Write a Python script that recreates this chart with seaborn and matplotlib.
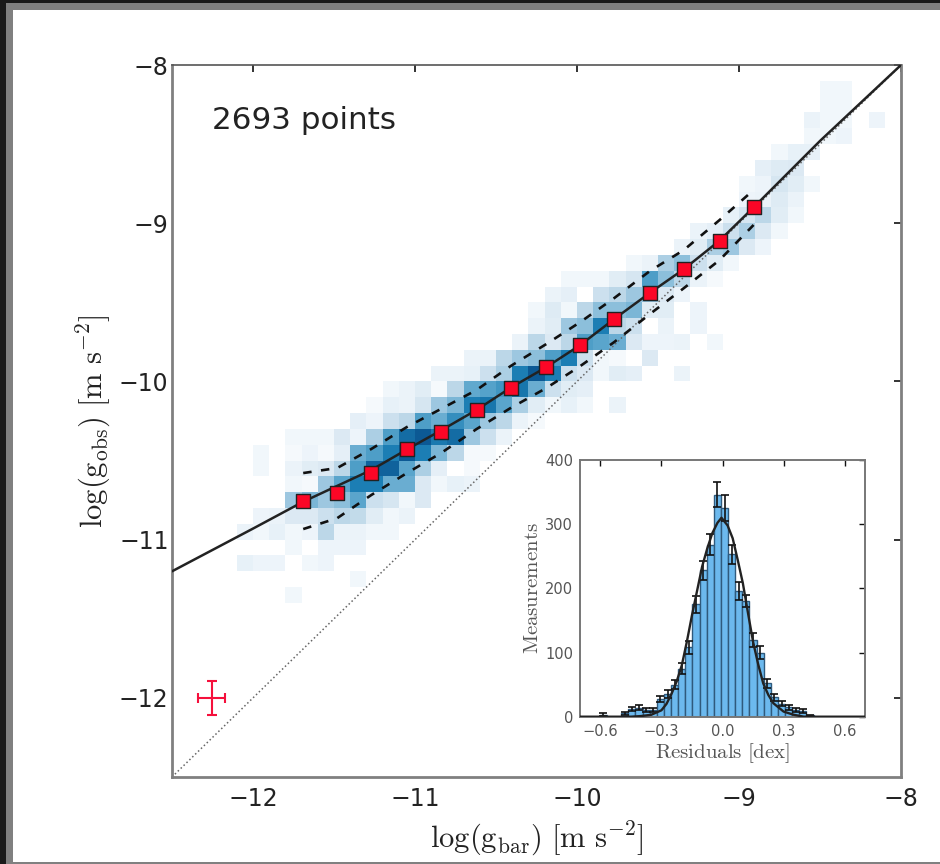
import numpy as np
import seaborn as sns
import matplotlib
matplotlib.use('Agg')
import matplotlib.pyplot as plt
import matplotlib.patches as mpatches
from matplotlib.colors import LinearSegmentedColormap

# 2D histogram cells, one row per 0.1 dex in y (top edge, first x bin, shades)
row_tops = [-8.1, -8.2, -8.3, -8.4, -8.5, -8.6, -8.7, -8.8, -8.9, -9.0, -9.1, -9.2, -9.3, -9.4, -9.5,
            -9.6, -9.7, -9.8, -9.9, -10.0, -10.1, -10.2, -10.3, -10.4, -10.5, -10.6, -10.7, -10.8,
            -10.9, -11.0, -11.1, -11.2, -11.3]
row_starts = [40, 40, 39, 39, 37, 36, 35, 35, 34, 32, 31, 28, 24, 23, 22,
              22, 21, 18, 16, 13, 12, 11, 7, 5, 5, 7, 7, 5,
              4, 7, 4, 11, 7]
row_values = [
    [.03, .03],
    [.03, .03],
    [.05, .03, .03, 0, .04],
    [.03, .03, .04],
    [.03, .06, .06],
    [.07, .09, .1],
    [.03, .04, .12, .08, .03],
    [.04, .05, .09, .05],
    [.06, .12, .2, .08, .03],
    [.05, .07, .15, .25, .1, .03],
    [.05, .08, .25, .3, .1, .04],
    [.03, .05, .25, .35, .15, .08, .03],
    [.03, .03, .03, .08, .12, .55, .35, .2, .05, .02],
    [.05, .07, 0, .15, .2, .3, .35, .1, .04],
    [.03, .09, .03, .2, .35, .35, .4, .08, .08, 0, .04],
    [.05, .08, .3, .35, .75, .2, .15, 0, .05, 0, .04],
    [.05, .2, .1, .2, .55, .5, .45, .1, .04, .04, .05, 0, .03],
    [.05, .05, .2, .3, .35, .55, .75, .15, .03, .02, 0, .1],
    [.05, .05, .06, .15, .25, .75, .95, .75, .15, .1, .03, .08, .07, 0, 0, .05],
    [.03, .05, .08, .02, .2, .48, .52, .6, .8, .45, .15, .08, .07],
    [.02, .06, .05, .12, .3, .4, .75, .8, .5, .25, .08, .03, .06, .03, 0, .05],
    [.07, .04, .15, .2, .55, .45, .65, .5, .3, .2, .05, .02],
    [.03, .03, .03, .1, .04, .25, .55, .85, .95, .78, .85, .3, .15, .05],
    [.03, 0, .02, .04, .02, .07, .45, .55, .75, .95, .75, .4, .2, .02, .02],
    [.03, 0, .05, .08, .1, .2, .55, .9, .9, .5, .25, .07, 0, .02],
    [.03, .02, .3, .5, .75, .75, .45, .45, .1, .03, .06, .05],
    [.3, .4, .3, .35, .5, .15, .12, .03, .1],
    [.04, .05, .1, .1, .15, .2, .18, .08, .03, .05],
    [.05, .03, .06, .03, .04, .2, .05, .05, .03, .03],
    [.03, 0, .04, .04, .04],
    [.06, .04, .04, 0, .03, .04],
    [.03],
    [.03],
]

# binned points and scatter
bin_x = [-11.69, -11.48, -11.27, -11.05, -10.84, -10.62, -10.41, -10.19, -9.98, -9.77, -9.55, -9.34, -9.12, -8.91]
bin_y = [-10.756, -10.705, -10.58, -10.43, -10.32, -10.18, -10.04, -9.91, -9.77, -9.605, -9.44, -9.29, -9.11, -8.90]
upper_y = [-10.579, -10.547, -10.427, -10.288, -10.174, -10.054, -9.903, -9.764, -9.625, -9.473, -9.302, -9.169, -8.98, -8.79]
lower_y = [-10.933, -10.864, -10.718, -10.579, -10.453, -10.301, -10.168, -10.042, -9.903, -9.751, -9.574, -9.41, -9.233, -9.011]

# fitted relation and unity line
fit_x = [-12.5, -12.0, -11.69, -11.48, -11.27, -11.05, -10.84, -10.62, -10.41, -10.19, -9.98, -9.77, -9.55, -9.34, -9.12, -8.91, -8.5, -8.0]
fit_y = [-11.2, -10.93, -10.76, -10.66, -10.56, -10.43, -10.31, -10.18, -10.04, -9.91, -9.77, -9.605, -9.44, -9.29, -9.11, -8.90, -8.48, -8.0]
unity = [-12.5, -8.0]

# typical error
err_x, err_y = -12.255, -12.0
err_dx, err_dy = 0.083, 0.108

# inset histogram
res_centers = [-0.585, -0.48, -0.445, -0.41, -0.375, -0.34, -0.305, -0.27, -0.235, -0.2, -0.165, -0.13, -0.095, -0.06,
               -0.025, 0.01, 0.045, 0.08, 0.115, 0.15, 0.185, 0.22, 0.255, 0.29, 0.325, 0.36, 0.395, 0.43]
res_counts = [3, 5, 12, 14, 10, 10, 28, 35, 50, 75, 108, 175, 228, 268,
              346, 325, 253, 196, 180, 120, 100, 52, 30, 20, 15, 11, 9, 2]
res_errors = [2, 2, 3, 4, 3, 3, 5, 6, 7, 9, 10, 13, 15, 16,
              19, 20, 15, 14, 9, 11, 10, 7, 5, 4, 4, 3, 3, 1]

# gaussian curve
curve_x = [-0.7, -0.45, -0.4, -0.35, -0.3, -0.275, -0.25, -0.225, -0.2, -0.175, -0.15, -0.125, -0.1, -0.075, -0.05, -0.025,
           -0.005, 0.025, 0.05, 0.075, 0.1, 0.125, 0.15, 0.175, 0.2, 0.225, 0.25, 0.3, 0.35, 0.4, 0.7]
curve_y = [0, 0, 1, 3, 10, 20, 36, 55, 80, 117, 158, 196, 234, 262, 286, 302,
           310, 298, 278, 244, 208, 162, 117, 82, 52, 34, 21, 8, 3, 0, 0]

# expand the rows to cell centres
cell_x, cell_y, cell_w = [], [], []
for top, start, vals in zip(row_tops, row_starts, row_values):
    for n, v in enumerate(vals):
        cell_x.append(-12.45 + 0.1 * (start + n))
        cell_y.append(top - 0.05)
        cell_w.append(v)

sns.set_style('white')
plt.rcParams['mathtext.fontset'] = 'cm'
plt.rcParams['font.family'] = 'DejaVu Sans'

W, H = 940, 864
fig = plt.figure(figsize=(W / 100, H / 100), dpi=100, facecolor='#1a1a1a')

# screenshot window frame
fig.add_artist(mpatches.Rectangle((6 / W, 0), 1, 1 - 3 / H, transform=fig.transFigure, color='#808080', lw=0, zorder=-2))
fig.add_artist(mpatches.Rectangle((13 / W, 2 / H), 1, 1 - 12 / H, transform=fig.transFigure, color='white', lw=0, zorder=-1))

ax = fig.add_axes([172 / W, 1 - 777 / H, 729 / W, 712 / H], facecolor='none')

cmap = LinearSegmentedColormap.from_list('cells', [(0, '#ffffff'), (0.03, '#f0f6fb'), (0.1, '#dbe9f3'), (0.2, '#bcd7e8'),
                                                   (0.35, '#8cbfdb'), (0.5, '#5aa5cc'), (0.75, '#1c7fb4'), (1, '#08508c')])
sns.histplot(x=cell_x, y=cell_y, weights=cell_w, binwidth=0.1, binrange=((-12.5, -8.0), (-12.5, -8.0)),
             cmap=cmap, vmin=0, vmax=1, linewidth=0, ax=ax, zorder=1)

sns.lineplot(x=unity, y=unity, color='#666666', lw=1.1, linestyle=':', ax=ax, zorder=2)
sns.lineplot(x=fit_x, y=fit_y, color='#222222', lw=1.8, sort=False, ax=ax, zorder=3)
sns.lineplot(x=bin_x, y=upper_y, color='#111111', lw=1.9, linestyle=(0, (3.2, 3.6)), sort=False, ax=ax, zorder=3)
sns.lineplot(x=bin_x, y=lower_y, color='#111111', lw=1.9, linestyle=(0, (3.2, 3.6)), sort=False, ax=ax, zorder=3)
sns.scatterplot(x=bin_x, y=bin_y, marker='s', s=100, color='#fb0626', edgecolor='#222222', linewidth=1, ax=ax, zorder=4)

ax.errorbar([err_x], [err_y], xerr=[err_dx], yerr=[err_dy], color='#f5103c', lw=1.5, capsize=3.6, capthick=1.5, zorder=4)

ax.text(-12.253, -8.405, '2693 points', fontsize=22.3, color='#222222', va='baseline')

ax.set_xlim(-12.5, -8)
ax.set_ylim(-12.5, -8)
ax.set_xticks([-12, -11, -10, -9, -8])
ax.set_yticks([-12, -11, -10, -9, -8])
ax.tick_params(axis='both', direction='in', length=5, width=1.2, color='#111111', top=True, right=True,
               labelsize=17, labelcolor='#222222')
ax.tick_params(axis='x', pad=7)
ax.tick_params(axis='y', pad=2.5)
for side, s in ax.spines.items():
    s.set_color('#808080')
    s.set_linewidth(2.0)
ax.spines['top'].set_color('#555555')
ax.spines['top'].set_linewidth(1.2)
ax.set_xlabel(r'$\log(\mathrm{g_{bar}})\ [\mathrm{m\ s^{-2}}]$', fontsize=22, color='#222222', labelpad=6)
ax.set_ylabel(r'$\log(\mathrm{g_{obs}})\ [\mathrm{m\ s^{-2}}]$', fontsize=22, color='#222222', labelpad=4)

# inset
ins = fig.add_axes([580 / W, 1 - 716.7 / H, 285 / W, 256.7 / H], facecolor='white')
sns.histplot(x=res_centers, weights=res_counts, binwidth=0.035, binrange=(-0.7075, 0.7625), color='#6cb9ee', alpha=1,
             edgecolor='#2f5a7d', linewidth=1, ax=ins, zorder=1)
ins.errorbar(res_centers, res_counts, yerr=res_errors, fmt='none', ecolor='#111111', elinewidth=1.2, capsize=3, capthick=1.2, zorder=2)
sns.lineplot(x=curve_x, y=curve_y, color='#222222', lw=1.7, sort=False, ax=ins, zorder=3)
ins.set_xlim(-0.7, 0.7)
ins.set_ylim(0, 400)
ins.set_xticks([-0.6, -0.3, 0.0, 0.3, 0.6])
ins.set_yticks([0, 100, 200, 300, 400])
ins.tick_params(axis='both', direction='in', length=4, width=1, color='#111111', top=True, right=True,
                labelsize=10.5, labelcolor='#555555', pad=5)
for s in ins.spines.values():
    s.set_color('#777777')
    s.set_linewidth(1.4)
ins.set_xlabel(r'$\mathrm{Residuals\ [dex]}$', fontsize=15, color='#555555', labelpad=2)
ins.set_ylabel(r'$\mathrm{Measurements}$', fontsize=15, color='#555555', labelpad=2)

fig.savefig('out.png', dpi=100, facecolor=fig.get_facecolor())
